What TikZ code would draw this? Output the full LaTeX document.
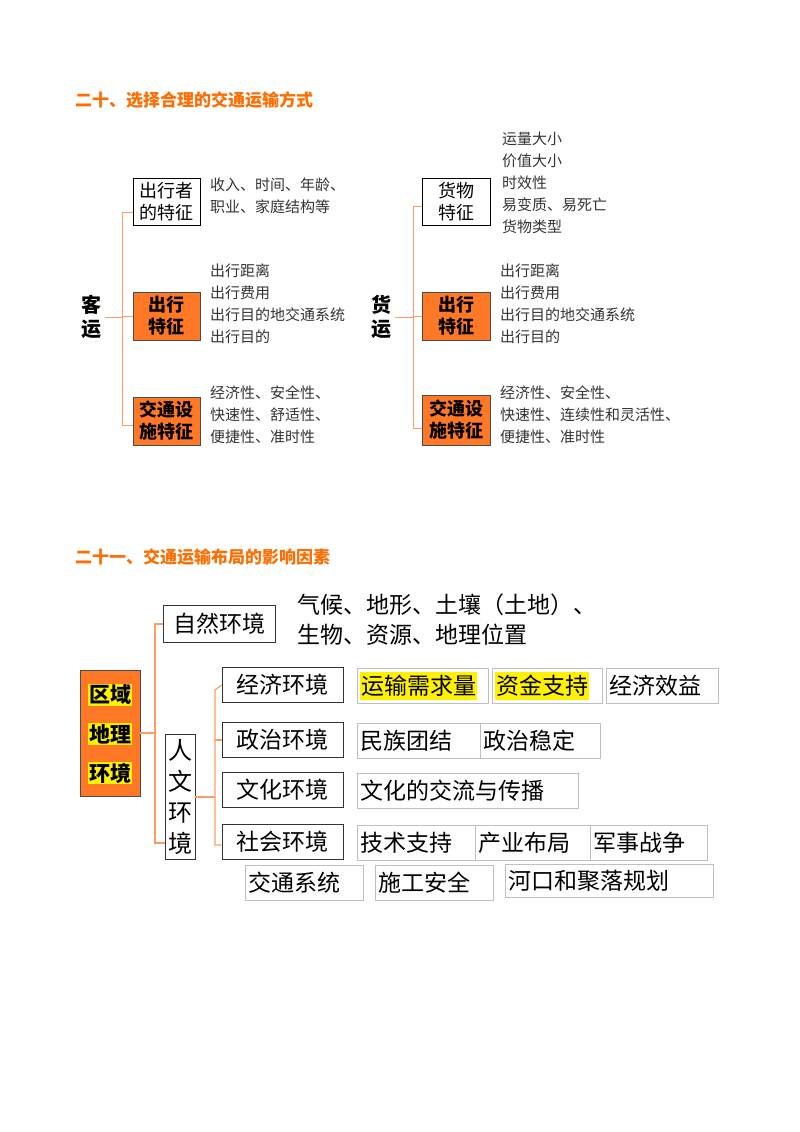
\documentclass[tikz,border=0pt]{standalone}
\usepackage{fontspec}
\setmainfont{Noto Sans CJK SC}
\begin{document}
\begin{tikzpicture}[x=1pt,y=-1pt,
  ttl/.style={anchor=west,inner sep=0pt,text=orange!85!red,font=\fontsize{17}{20}\selectfont\bfseries},
  wbox/.style={draw=black,fill=white,line width=0.8pt,inner sep=0pt,align=center,font=\fontsize{18}{22}\selectfont},
  obox/.style={draw=gray!60!black,fill=orange!75!red!85!white,line width=0.8pt,inner sep=0pt,align=center,font=\fontsize{18}{22}\selectfont\bfseries},
  hand/.style={anchor=north west,align=left,inner sep=0pt,text=black!80,font=\fontsize{15}{22}\selectfont},
  br/.style={draw=orange!70!red!60,line width=0.7pt},
  big/.style={draw=black!80,line width=0.8pt,inner sep=0pt,font=\fontsize{23}{26}\selectfont},
  gb/.style={draw=gray!50,line width=0.8pt,inner xsep=3pt,inner ysep=0pt,anchor=north west,align=left,font=\fontsize{23}{26}\selectfont}]
\useasboundingbox (0,0) rectangle (800,1132);
\node[ttl] (t1) at (75,100) {二十、选择合理的交通运输方式};
% left
\node[font=\fontsize{20}{24}\selectfont\bfseries,align=center] (ky) at (91,317) {客\\运};
\node[wbox,minimum width=67,minimum height=47] (a1) at (166.5,201.5) {出行者\\的特征};
\node[obox,minimum width=67,minimum height=48] (a2) at (166.5,316) {出行\\特征};
\node[obox,minimum width=67,minimum height=48] (a3) at (166.5,421) {交通设\\施特征};
\coordinate (ka) at (122,212); \coordinate (kb) at (122,425);
\draw[br] (ky.east) -- (122,317);
\draw[br] (a1.west|-ka) -- (ka) -- (kb) -- (a3.west|-kb);
\draw[br] (122,316) -- (a2.west);
\node[hand] (l1) at (210,178) {收入、时间、年龄、\\职业、家庭结构等};
\node[hand] (l2) at (210,264) {出行距离\\出行费用\\出行目的地交通系统\\出行目的};
\node[hand] (l3) at (210,386) {经济性、安全性、\\快速性、舒适性、\\便捷性、准时性};
% right
\node[font=\fontsize{20}{24}\selectfont\bfseries,align=center] (hy) at (381,317) {货\\运};
\node[wbox,minimum width=68,minimum height=47] (b1) at (456,201.5) {货物\\特征};
\node[obox,minimum width=68,minimum height=48] (b2) at (456,316) {出行\\特征};
\node[obox,minimum width=68,minimum height=50] (b3) at (456,420) {交通设\\施特征};
\coordinate (ha) at (413,206); \coordinate (hb) at (413,428);
\draw[br] (hy.east) -- (413,317);
\draw[br] (b1.west|-ha) -- (ha) -- (hb) -- (b3.west|-hb);
\draw[br] (413,316) -- (b2.west);
\node[hand] (r1) at (502,132) {运量大小\\价值大小\\时效性\\易变质、易死亡\\货物类型};
\node[hand] (r2) at (500,264) {出行距离\\出行费用\\出行目的地交通系统\\出行目的};
\node[hand] (r3) at (500,386) {经济性、安全性、\\快速性、连续性和灵活性、\\便捷性、准时性};
% section 2
\node[ttl] (t2) at (75,557) {二十一、交通运输布局的影响因素};
\node[draw=gray!60!black,fill=orange!75!red!85!white,line width=0.8pt,minimum width=60,minimum height=126] (q) at (110,733) {};
\foreach \t/\y/\n in {区域/695/q1,地理/734/q2,环境/773/q3}
  \node[fill=yellow,inner sep=1pt,font=\fontsize{21}{23}\selectfont\bfseries] (\n) at (110,\y) {\t};
\node[big,minimum width=112,minimum height=37] (zr) at (219,624) {自然环境};
\node[big,minimum width=30,minimum height=125,align=center,font=\fontsize{24}{31}\selectfont] (rw) at (180,797) {人\\文\\环\\境};
\node[anchor=north west,inner sep=0pt,align=left,font=\fontsize{23}{30}\selectfont] (zt) at (297,594) {气候、地形、土壤（土地）、\\生物、资源、地理位置};
\draw[br,line width=1.2pt] (q.east) -- (155,733);
\draw[br,line width=1.2pt] (zr.west) -- (155,624) -- (155,843) -- (rw.west|-0,843);
\foreach \t/\y/\n in {经济环境/685/e1,政治环境/740/e2,文化环境/790/e3,社会环境/842/e4}
  \node[big,minimum width=121,minimum height=35] (\n) at (282.5,\y) {\t};
\draw[br,line width=1.2pt] (rw.east) -- (215,797);
\draw[br,line width=1.2pt] (e1.west) -- (215,690) -- (215,845) -- (e4.west|-0,845);
\draw[br,line width=1.2pt] (215,740) -- (e2.west);
% items
\tikzset{w/.style={text width=#1-6pt,minimum height=35}}
\node[gb,w=131] (i1) at (357,668) {\colorbox{yellow}{\kern-2pt 运输需求量\kern-2pt}};
\node[gb,w=110] (i2) at (492,668) {\colorbox{yellow}{\kern-2pt 资金支持\kern-2pt}};
\node[gb,w=112] (i3) at (606,668) {经济效益};
\node[gb,w=123] (i4) at (357,723) {民族团结};
\node[gb,w=120] (i5) at (480,723) {政治稳定};
\node[gb,w=221] (i6) at (357,773) {文化的交流与传播};
\node[gb,w=118] (i7) at (357,825) {技术支持};
\node[gb,w=115] (i8) at (475,825) {产业布局};
\node[gb,w=117] (i9) at (590,825) {军事战争};
\node[gb,w=118] (j1) at (245,865) {交通系统};
\node[gb,w=118] (j2) at (375,865) {施工安全};
\node[gb,w=208,minimum height=33] (j3) at (505,864) {河口和聚落规划};
\end{tikzpicture}
\end{document}
